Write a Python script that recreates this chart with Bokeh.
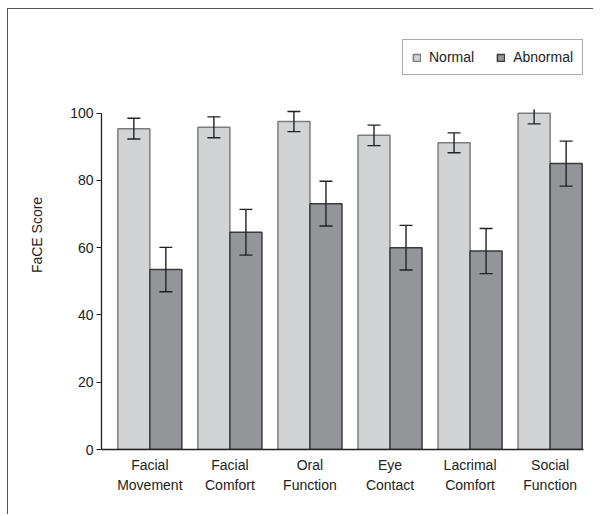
from bokeh.plotting import figure
from bokeh.models import ColumnDataSource, FixedTicker, Legend, LegendItem, Range1d
from bokeh.embed import file_html
from bokeh.resources import INLINE

categories = ["Facial\nMovement", "Facial\nComfort", "Oral\nFunction",
              "Eye\nContact", "Lacrimal\nComfort", "Social\nFunction"]
normal = [95.4, 95.8, 97.5, 93.4, 91.2, 100.0]
normal_err = [3.1, 3.1, 3.0, 3.05, 2.95, 3.2]
abnormal = [53.5, 64.6, 73.1, 60.0, 59.0, 85.0]
abnormal_err = [6.6, 6.8, 6.65, 6.65, 6.7, 6.7]
y_ticks = [0, 20, 40, 60, 80, 100]

FONT = "Liberation Sans"
BAR_W = 0.4
CAP = 0.081
CLIP = 101.2  # top of the original plotting area (error bars are cut there)

p = figure(width=586, height=506,
           x_range=Range1d(-0.604, 5.417), y_range=Range1d(0, 127.55),
           output_backend="svg", toolbar_location=None,
           min_border_left=93, min_border_right=11,
           min_border_top=11, min_border_bottom=66)
p.margin = (8, 0, 0, 7)
p.styles = {"border-left": "1.5px solid #555555", "border-top": "1.5px solid #555555"}

idx = list(range(len(categories)))


def make_src(vals, errs, off):
    xs = [i + off for i in idx]
    hi = [v + e for v, e in zip(vals, errs)]
    return ColumnDataSource(dict(
        x=xs, top=vals,
        lo=[v - e for v, e in zip(vals, errs)],
        hi=[min(h, CLIP) for h in hi],
        cap_hi=[h if h <= CLIP else float("nan") for h in hi],
        x0=[x - CAP for x in xs], x1=[x + CAP for x in xs]))


src_n = make_src(normal, normal_err, -BAR_W / 2)
src_a = make_src(abnormal, abnormal_err, BAR_W / 2)

r_n = p.vbar(x="x", top="top", bottom=0, width=BAR_W, source=src_n,
             fill_color="#d2d3d5", line_color="#7d7d7d", line_width=1.5)
r_a = p.vbar(x="x", top="top", bottom=0, width=BAR_W, source=src_a,
             fill_color="#939598", line_color="#3a3a3a", line_width=1.5)

for s in (src_n, src_a):
    p.segment(x0="x", x1="x", y0="lo", y1="hi", source=s, line_color="#222222", line_width=1.4)
    p.segment(x0="x0", x1="x1", y0="cap_hi", y1="cap_hi", source=s, line_color="#222222", line_width=1.4)
    p.segment(x0="x0", x1="x1", y0="lo", y1="lo", source=s, line_color="#222222", line_width=1.4)

# axes
p.xgrid.visible = False
p.ygrid.visible = False
p.outline_line_color = None

p.yaxis.ticker = FixedTicker(ticks=y_ticks)
p.yaxis.bounds = (0, 100)
p.yaxis.minor_tick_line_color = None
p.yaxis.major_tick_in = 0
p.yaxis.major_tick_out = 5
p.yaxis.axis_line_color = "#222222"
p.yaxis.major_tick_line_color = "#222222"
p.yaxis.axis_line_width = 1.3
p.yaxis.major_label_text_font = FONT
p.yaxis.major_label_text_font_size = "14px"
p.yaxis.major_label_text_color = "#222222"
p.yaxis.major_label_standoff = 3
p.yaxis.axis_label = "FaCE Score"
p.yaxis.axis_label_text_font = FONT
p.yaxis.axis_label_text_font_size = "14px"
p.yaxis.axis_label_text_font_style = "normal"
p.yaxis.axis_label_text_color = "#222222"
p.yaxis.axis_label_standoff = 22

p.xaxis.ticker = FixedTicker(ticks=idx)
p.xaxis.major_label_overrides = {i: c for i, c in zip(idx, categories)}
p.xaxis.minor_tick_line_color = None
p.xaxis.major_tick_line_color = None
p.xaxis.major_tick_out = 0
p.xaxis.axis_line_color = "#222222"
p.xaxis.axis_line_width = 1.3
p.xaxis.major_label_text_font = FONT
p.xaxis.major_label_text_font_size = "14px"
p.xaxis.major_label_text_color = "#222222"
p.xaxis.major_label_text_line_height = 1.3
p.xaxis.major_label_standoff = 7

legend = Legend(items=[LegendItem(label="Normal", renderers=[r_n]),
                       LegendItem(label="Abnormal", renderers=[r_a])],
                orientation="horizontal", location=(301, 374),
                label_text_font=FONT, label_text_font_size="14px",
                label_text_color="#222222",
                glyph_width=9, glyph_height=9, spacing=22, padding=9,
                label_standoff=8, margin=0,
                border_line_color="#555555", border_line_width=1.2,
                background_fill_alpha=0)
p.add_layout(legend, "center")

open("out.html", "w").write(file_html(p, INLINE))
